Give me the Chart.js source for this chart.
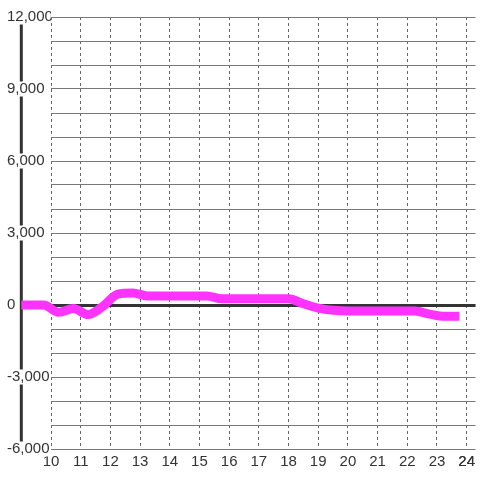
<!DOCTYPE html>
<html>
<head>
<meta charset="utf-8">
<script src="https://cdn.jsdelivr.net/npm/chart.js@4/dist/chart.umd.min.js"></script>
<style>
  html, body { margin: 0; padding: 0; background: #fff; }
  #wrap { width: 480px; height: 480px; }
</style>
</head>
<body>
<div id="wrap"><canvas id="myChart"></canvas></div>
<script>
// hour of day and value
const hours = [9, 9.5, 9.75, 10.25, 10.75, 11.25, 11.75, 12.25, 12.75, 13.25, 14, 15, 15.25, 15.75, 17, 18, 18.5, 19, 19.5, 20, 21, 22, 22.25, 22.75, 23.25, 23.75];
const values = [0, 0, 0, -300, -150, -400, -50, 450, 500, 380, 380, 380, 380, 260, 260, 260, 50, -130, -220, -250, -250, -250, -250, -380, -470, -470];

// axis limits
const xMin = 10, xMax = 24.3, axisX = 9;
const yMin = -6000, yMax = 12000;
const yLabelStep = 3000;

const points = hours.map((h, i) => ({ x: h, y: values[i] }));

const ctx = document.getElementById('myChart').getContext('2d');
const myChart = new Chart(ctx, {
  type: 'line',
  data: {
    datasets: [{
      data: points,
      borderColor: '#ff33ff',
      borderWidth: 9,
      pointRadius: 0,
      cubicInterpolationMode: 'monotone',
      clip: false,
      order: 0
    }, {
      // vertical axis line at hour 9
      data: [{ x: axisX, y: yMin }, { x: axisX, y: yMax }],
      borderColor: '#333',
      borderWidth: 3,
      pointRadius: 0,
      clip: false,
      order: 1
    }]
  },
  options: {
    responsive: true,
    maintainAspectRatio: false,
    animation: false,
    layout: { padding: { left: 7, top: 17, right: 0, bottom: 6 } },
    plugins: { legend: { display: false }, tooltip: { enabled: false } },
    scales: {
      x: {
        type: 'linear',
        bounds: 'data',
        // set range here so points before 10 still get drawn
        afterDataLimits: (s) => { s.min = xMin; s.max = xMax; },
        afterBuildTicks: (s) => { s.ticks = s.ticks.filter(t => Number.isInteger(t.value)); },
        grid: {
          color: '#666',
          drawTicks: false
        },
        border: { display: false, dash: [3, 3] },
        ticks: {
          stepSize: 1,
          padding: 5,
          color: '#333',
          font: { family: 'Liberation Sans', size: 15, lineHeight: 1 },
          maxRotation: 0,
          autoSkip: false
        }
      },
      y: {
        type: 'linear',
        min: yMin,
        max: yMax,
        afterFit: (scale) => { scale.width = 44; },
        grid: {
          color: (c) => c.tick && c.tick.value === 0 ? '#333' : '#777',
          lineWidth: (c) => c.tick && c.tick.value === 0 ? 3 : 1,
          tickColor: (c) => c.tick && c.tick.value === 0 ? '#333' : 'rgba(0,0,0,0)',
          tickWidth: (c) => c.tick && c.tick.value === 0 ? 3 : 1,
          tickLength: 30
        },
        border: { display: false },
        ticks: {
          stepSize: 1000,
          autoSkip: false,
          crossAlign: 'far',
          padding: 0,
          z: 1,
          color: '#333',
          showLabelBackdrop: true,
          backdropColor: '#fff',
          backdropPadding: 0,
          font: { family: 'Liberation Sans', size: 15, lineHeight: 1 },
          callback: (v) => v % yLabelStep === 0 ? v.toLocaleString('en-US') : ''
        }
      }
    }
  }
});
</script>
</body>
</html>
